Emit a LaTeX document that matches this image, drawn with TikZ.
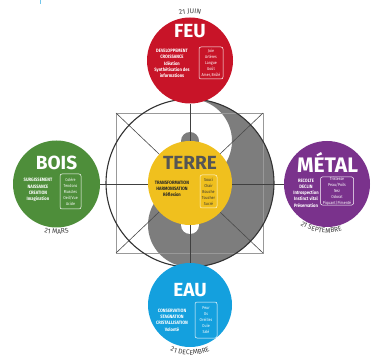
\documentclass[tikz,border=0pt]{standalone}
\usepackage{fontspec}
\setmainfont{Fira Sans}
\newfontfamily\condfont{Fira Sans}[FakeStretch=0.86]
\usetikzlibrary{decorations.text}
\definecolor{feuc}{RGB}{200,20,40}
\definecolor{boisc}{RGB}{78,142,58}
\definecolor{metalc}{RGB}{122,50,140}
\definecolor{eauc}{RGB}{20,160,222}
\definecolor{terrec}{RGB}{240,192,30}
\definecolor{yyc}{RGB}{125,125,125}
\definecolor{datec}{RGB}{60,60,60}
\definecolor{terretxt}{RGB}{85,85,85}
\pgfdeclarelayer{paper}
\pgfdeclarelayer{yy}
\pgfdeclarelayer{lines}
\pgfsetlayers{paper,yy,lines,main}
\tikzset{
  element/.style={circle, inner sep=0pt, draw=none},
  title/.style={font=\fontsize{19}{19}\selectfont\bfseries, text=white, inner sep=0pt},
  qualities/.style={font=\condfont\fontsize{4.8}{6.3}\selectfont\bfseries, text=white, align=center, inner sep=0pt},
  organs/.style={font=\condfont\fontsize{4.2}{6}\selectfont, text=white, align=center, draw=white, line width=0.5pt, rounded corners=2pt, inner sep=0pt},
  axis/.style={draw=black!75, line width=0.6pt},
  frame/.style={draw=black!40, line width=0.8pt},
  diag/.style={draw=black!70, line width=0.6pt},
  bigcirc/.style={draw=black!80, line width=1.1pt},
}
\begin{document}
\begin{tikzpicture}[x=1pt,y=1pt]
\useasboundingbox (0,0) rectangle (371,361);
\begin{pgfonlayer}{paper}
\fill[white] (0,0) rectangle (371,361);
\fill[eauc!60] (40,357) rectangle (41.3,361);
\end{pgfonlayer}

% yin-yang
\begin{pgfonlayer}{yy}
\fill[yyc] (190,262) arc[start angle=90, end angle=-90, radius=84]
  arc[start angle=-90, end angle=-270, radius=42]
  arc[start angle=-90, end angle=90, radius=42] -- cycle;
\fill[yyc] (190,220) circle[radius=9];
\fill[white] (190,136) circle[radius=9];
\end{pgfonlayer}

% elements
\node[element, fill=feuc, minimum size=86pt] (feu) at (190,300.5) {};
\node[element, fill=boisc, minimum size=87pt] (bois) at (56.5,177) {};
\node[element, fill=metalc, minimum size=86pt] (metal) at (327,177) {};
\node[element, fill=eauc, minimum size=84pt] (eau) at (190,56) {};
\node[element, fill=terrec, minimum size=84pt] (terre) at (190,178) {};

% frame and lines
\coordinate (c) at (190,178);
\coordinate (sq1) at (116,248);
\coordinate (sq2) at (263,248);
\coordinate (sq3) at (263,108);
\coordinate (sq4) at (116,108);
\begin{pgfonlayer}{lines}
\draw[frame] (sq1) -- (sq2) -- (sq3) -- (sq4) -- cycle;
\draw[diag] (sq1) -- (sq3);
\draw[diag] (sq2) -- (sq4);
\draw[axis] (feu.south) -- (eau.north);
\draw[axis] (bois.east) -- (metal.west);
\draw[bigcirc] (c) circle[radius=84];
\end{pgfonlayer}

% FEU
\node[title] (feut) at (190,330) {FEU};
\node[qualities] (feuq) at (172,297.5) {DEVELOPPEMENT\\CROISSANCE\\Idéation\\Synthétisation des\\informations};
\node[organs, minimum width=24pt, minimum height=32pt] (feuo) at (211,298) {Joie\\Artères\\Langue\\Goût\\Amer, Brûlé};
\path[decorate, decoration={text along path, text align=center,
  text={|\fontsize{6.8}{7}\selectfont\color{datec}|21 JUIN}}]
  (feu.center) ++(125:47) arc[start angle=125, end angle=55, radius=47];

% BOIS
\node[title] (boist) at (56.5,198) {BOIS};
\node[qualities] (boisq) at (38,171) {SURGISSEMENT\\NAISSANCE\\CREATION\\Imagination};
\node[organs, minimum width=21pt, minimum height=35pt] (boiso) at (70.5,169.5) {Colère\\Tendons\\Muscles\\Oeil/Vue\\Acide};
\path[decorate, decoration={text along path, text align=center,
  text={|\fontsize{6.8}{7}\selectfont\color{datec}|21 MARS}}]
  (bois.center) ++(225:50) arc[start angle=225, end angle=315, radius=50];

% METAL
\node[title, font=\fontsize{21}{21}\selectfont\bfseries] (metalt) at (327.5,199) {MÉTAL};
\node[qualities] (metalq) at (306,168) {RECOLTE\\DECLIN\\Introspection\\Instinct vital\\Préservation};
\node[organs, minimum width=33pt, minimum height=28pt] (metalo) at (337,170) {Tristesse\\Peau/Poils\\Nez\\Odorat\\Piquant/Pimenté};
\path[decorate, decoration={text along path, text align=center,
  text={|\fontsize{6.8}{7}\selectfont\color{datec}|21 SEPTEMBRE}}]
  (metal.center) ++(205:49) arc[start angle=205, end angle=320, radius=49];

% EAU
\node[title] (eaut) at (190,71) {EAU};
\node[qualities] (eauq) at (172,41) {CONSERVATION\\STAGNATION\\CRISTALLISATION\\Volonté};
\node[organs, minimum width=22pt, minimum height=36pt] (eauo) at (206,41) {Peur\\Os\\Oreilles\\Ouïe\\Salé};
\path[decorate, decoration={text along path, text align=center,
  text={|\fontsize{6.8}{7}\selectfont\color{datec}|21 DECEMBRE}}]
  (eau.center) ++(215:50) arc[start angle=215, end angle=325, radius=50];

% TERRE
\node[title, text=terretxt, font=\fontsize{19}{19}\selectfont\bfseries] (terret) at (190,198) {TERRE};
\node[qualities, text=black!85] (terreq) at (172,172) {TRANSFORMATION\\HARMONISATION\\Réflexion};
\node[organs, text=black!80, draw=white!85!terrec, minimum width=17pt, minimum height=33pt] (terreo) at (208.5,169.5) {Souci\\Chair\\Bouche\\Toucher\\Sucré};
\end{tikzpicture}
\end{document}
